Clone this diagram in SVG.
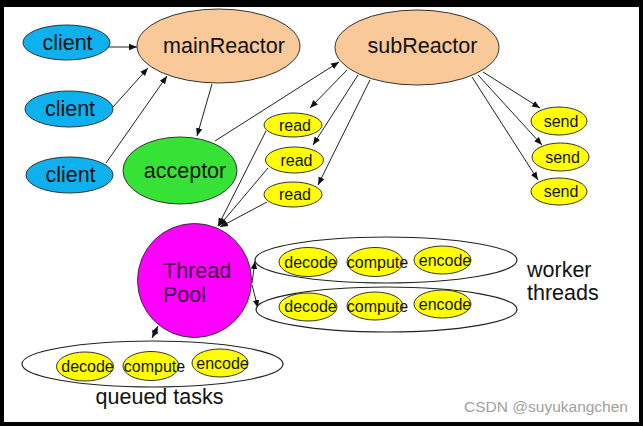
<svg xmlns="http://www.w3.org/2000/svg" width="643" height="426" viewBox="0 0 643 426">
<defs>
<marker id="ah" viewBox="0 0 10 10" refX="10" refY="5" markerWidth="8" markerHeight="8" markerUnits="userSpaceOnUse" orient="auto-start-reverse">
<path d="M0,1 L10,5 L0,9 Z" fill="#111"/>
</marker>
</defs>
<style>
.n{stroke:#333;stroke-width:1}
.blue{fill:#0fb0ee}
.peach{fill:#f9c99a}
.green{fill:#36e236}
.yel{fill:#ffff00}
.mag{fill:#ff00ff}
.grp{fill:#fff;stroke:#222;stroke-width:1.2}
.t{font-family:"Liberation Sans",Arial,sans-serif;fill:#111}
.big{font-size:21.5px}
.sm{font-size:16px}
.c{text-anchor:middle}
.e{stroke:#222;stroke-width:1;fill:none;marker-end:url(#ah)}
</style>
<rect x="0" y="0" width="643" height="426" fill="#000"/>
<rect x="4" y="7" width="635" height="415" fill="#fff"/>

<g id="connectors">
<line class="e" x1="106" y1="47" x2="137" y2="47"/>
<line class="e" x1="113" y1="107" x2="148" y2="68"/>
<line class="e" x1="106" y1="163" x2="167" y2="76"/>
<line class="e" x1="212" y1="84" x2="197" y2="136"/>
<line class="e" x1="215" y1="141" x2="339" y2="62"/>
<line class="e" x1="347" y1="70" x2="310" y2="108"/>
<line class="e" x1="358" y1="75" x2="313" y2="145"/>
<line class="e" x1="370" y1="80" x2="318" y2="185"/>
<line class="e" x1="483" y1="72" x2="540" y2="108"/>
<line class="e" x1="478" y1="75" x2="542" y2="145"/>
<line class="e" x1="472" y1="77" x2="538" y2="180"/>
<line class="e" x1="266" y1="131" x2="218" y2="226"/>
<line class="e" x1="268" y1="168" x2="219" y2="226"/>
<line class="e" x1="267" y1="202" x2="220" y2="227"/>
<line class="e" x1="252" y1="283" x2="255" y2="261"/>
<line class="e" x1="252" y1="285" x2="258" y2="308"/>
<line class="e" x1="152" y1="338" x2="158" y2="326" marker-start="url(#ah)"/>
</g>

<g id="client1"><ellipse class="n blue" cx="66.5" cy="42.5" rx="43.5" ry="17.5"/><text class="t big c" x="67.5" y="50">client</text></g>
<g id="client2"><ellipse class="n blue" cx="69" cy="109" rx="44" ry="18"/><text class="t big c" x="70" y="116">client</text></g>
<g id="client3"><ellipse class="n blue" cx="69.5" cy="175" rx="43.5" ry="18"/><text class="t big c" x="70.5" y="182">client</text></g>

<g id="mainReactor"><ellipse class="n peach" cx="218.5" cy="46" rx="81.5" ry="37"/><text class="t big c" x="224" y="53">mainReactor</text></g>
<g id="subReactor"><ellipse class="n peach" cx="417" cy="47.5" rx="82" ry="37.5"/><text class="t big c" x="422.5" y="53">subReactor</text></g>
<g id="acceptor"><ellipse class="n green" cx="180" cy="170.5" rx="57" ry="33.5"/><text class="t big c" x="185" y="178">acceptor</text></g>

<g id="read1"><ellipse class="n yel" cx="293" cy="125" rx="29" ry="12"/><text class="t sm c" x="295" y="130.5">read</text></g>
<g id="read2"><ellipse class="n yel" cx="294.5" cy="160" rx="29" ry="13"/><text class="t sm c" x="296.5" y="165.5">read</text></g>
<g id="read3"><ellipse class="n yel" cx="293" cy="194.5" rx="29" ry="12.5"/><text class="t sm c" x="295" y="200">read</text></g>

<g id="send1"><ellipse class="n yel" cx="559" cy="121" rx="28" ry="14"/><text class="t sm c" x="561" y="126.5">send</text></g>
<g id="send2"><ellipse class="n yel" cx="560.5" cy="157" rx="28.5" ry="14"/><text class="t sm c" x="562.5" y="162.5">send</text></g>
<g id="send3"><ellipse class="n yel" cx="559" cy="191.5" rx="28" ry="13.5"/><text class="t sm c" x="561" y="197">send</text></g>

<g id="threadPool"><circle class="n mag" cx="194.5" cy="280.5" r="57"/><text class="t big" x="163" y="278" style="fill:#3a0040">Thread</text><text class="t big" x="163" y="302" style="fill:#3a0040">Pool</text></g>

<g id="worker1">
<ellipse class="grp" cx="386" cy="260" rx="131" ry="23"/>
<ellipse class="n yel" cx="308" cy="262" rx="29" ry="14.5"/>
<ellipse class="n yel" cx="375" cy="262" rx="28" ry="14.5"/>
<ellipse class="n yel" cx="442.5" cy="260" rx="28.5" ry="14"/>
<text class="t sm c" x="310.5" y="267.5">decode</text>
<text class="t sm c" x="377.5" y="267.5">compute</text>
<text class="t sm c" x="445" y="265.5">encode</text>
</g>
<g id="worker2">
<ellipse class="grp" cx="386.5" cy="309.5" rx="130.5" ry="22.5"/>
<ellipse class="n yel" cx="308" cy="307" rx="29" ry="14"/>
<ellipse class="n yel" cx="375" cy="306" rx="28" ry="14"/>
<ellipse class="n yel" cx="442.5" cy="304" rx="28.5" ry="14"/>
<text class="t sm c" x="310.5" y="311.5">decode</text>
<text class="t sm c" x="377.5" y="311.5">compute</text>
<text class="t sm c" x="445" y="309.5">encode</text>
</g>
<g id="workerLabel"><text class="t big" x="527" y="277">worker</text><text class="t big" x="527" y="300">threads</text></g>

<g id="queued">
<ellipse class="grp" cx="152.5" cy="364" rx="130.5" ry="23"/>
<ellipse class="n yel" cx="85" cy="366.5" rx="28.5" ry="14.5"/>
<ellipse class="n yel" cx="151" cy="366" rx="28" ry="14.5"/>
<ellipse class="n yel" cx="220" cy="363" rx="28" ry="14"/>
<text class="t sm c" x="87.5" y="371.5">decode</text>
<text class="t sm c" x="154.5" y="371.5">compute</text>
<text class="t sm c" x="222.5" y="368.5">encode</text>
</g>
<g id="queuedLabel"><text class="t big c" x="159.5" y="404">queued tasks</text></g>

<text x="628" y="412" text-anchor="end" font-family="'Liberation Sans',Arial,sans-serif" font-size="15.5" fill="#a0a0a0">CSDN @suyukangchen</text>
</svg>
